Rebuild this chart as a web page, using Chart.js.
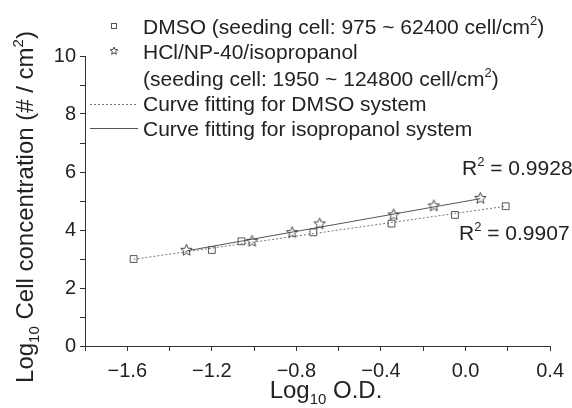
<!DOCTYPE html>
<html>
<head>
<meta charset="utf-8">
<script src="https://cdn.jsdelivr.net/npm/chart.js@4.4.1/dist/chart.umd.min.js"></script>
<style>
  html, body { margin: 0; padding: 0; background: #fff; }
  #wrap { width: 572px; height: 408px; }
</style>
</head>
<body>
<div id="wrap"><canvas id="chart" width="572" height="408"></canvas></div>
<script>
// data
const dmsoX = [-1.57, -1.20, -1.06, -0.72, -0.35, -0.05, 0.19];
const dmsoY = [3.00, 3.31, 3.61, 3.92, 4.22, 4.52, 4.82];
const isoX  = [-1.32, -1.01, -0.82, -0.69, -0.34, -0.15, 0.07];
const isoY  = [3.30, 3.61, 3.91, 4.21, 4.52, 4.83, 5.09];
// fitted lines (end points as drawn)
const dmsoFitX = [-1.57, 0.19];
const dmsoFitY = [2.99, 4.82];
const isoFitX  = [-1.32, 0.07];
const isoFitY  = [3.28, 5.08];
const r2Labels = ['0.9928', '0.9907'];
const xTicksShown = [-1.6, -1.2, -0.8, -0.4, 0.0, 0.4];
const yTicksShown = [0, 2, 4, 6, 8, 10];

const FONT = '"Liberation Sans", Arial, Helvetica, sans-serif';
const INK = '#222';
const AXIS = '#333';

const pts = (xs, ys) => xs.map((x, i) => ({ x, y: ys[i] }));

// 5-point hollow star used as point style
function makeStar(size, r){
  const c = document.createElement('canvas');
  c.width = size; c.height = size;
  const g = c.getContext('2d');
  drawStar(g, size/2, size/2, r);
  return c;
}
function drawStar(g, cx, cy, r){
  const ri = r * 0.45;
  g.beginPath();
  for (let i = 0; i < 10; i++){
    const a = -Math.PI/2 + i*Math.PI/5;
    const rr = i % 2 ? ri : r;
    const px = cx + rr*Math.cos(a), py = cy + rr*Math.sin(a);
    i ? g.lineTo(px, py) : g.moveTo(px, py);
  }
  g.closePath();
  g.strokeStyle = '#444';
  g.lineWidth = 1;
  g.stroke();
}
const starImg = makeStar(15, 6);

// draw text made of pieces (sub/superscripts)
function richWidth(g, parts){
  let w = 0;
  for (const p of parts){ g.font = `${p.size}px ${FONT}`; w += g.measureText(p.t).width; }
  return w;
}
function drawRich(g, parts, x, y, align){
  let cx = align === 'center' ? x - richWidth(g, parts)/2 : x;
  for (const p of parts){
    g.font = `${p.size}px ${FONT}`;
    g.fillText(p.t, cx, y + (p.dy || 0));
    cx += g.measureText(p.t).width;
  }
}

const overlay = {
  id: 'overlay',
  afterDraw(chart){
    const g = chart.ctx;
    g.save();
    g.fillStyle = INK;
    g.textBaseline = 'alphabetic';
    g.textAlign = 'left';

    // axis titles
    drawRich(g, [
      { t: 'Log', size: 24 }, { t: '10', size: 15, dy: 6 }, { t: ' O.D.', size: 24 }
    ], 326, 398, 'center');

    g.save();
    g.translate(33, 207);
    g.rotate(-Math.PI/2);
    drawRich(g, [
      { t: 'Log', size: 24 }, { t: '10', size: 15, dy: 6 },
      { t: ' Cell concentration (# / cm', size: 24 }, { t: '2', size: 15, dy: -10 },
      { t: ')', size: 24 }
    ], 0, 0, 'center');
    g.restore();

    // R^2 annotations
    drawRich(g, [{ t: 'R', size: 21 }, { t: '2', size: 13, dy: -9 }, { t: ' = ' + r2Labels[0], size: 21 }], 462, 175, 'left');
    drawRich(g, [{ t: 'R', size: 21 }, { t: '2', size: 13, dy: -9 }, { t: ' = ' + r2Labels[1], size: 21 }], 459, 240, 'left');

    // legend
    const tx = 143;
    g.strokeStyle = '#555';
    g.lineWidth = 1;
    g.strokeRect(111.5, 23.5, 5, 5);
    drawStar(g, 114, 51, 4);
    drawRich(g, [{ t: 'DMSO (seeding cell: 975 ~ 62400 cell/cm', size: 21 }, { t: '2', size: 13, dy: -9 }, { t: ')', size: 21 }], tx, 34, 'left');
    drawRich(g, [{ t: 'HCl/NP-40/isopropanol', size: 21 }], tx, 59, 'left');
    drawRich(g, [{ t: '(seeding cell: 1950 ~ 124800 cell/cm', size: 21 }, { t: '2', size: 13, dy: -9 }, { t: ')', size: 21 }], tx, 86, 'left');
    drawRich(g, [{ t: 'Curve fitting for DMSO system', size: 21 }], tx, 111, 'left');
    drawRich(g, [{ t: 'Curve fitting for isopropanol system', size: 21 }], tx, 136, 'left');

    g.strokeStyle = '#777';
    g.setLineDash([2, 2]);
    g.beginPath(); g.moveTo(90, 104.5); g.lineTo(138, 104.5); g.stroke();
    g.setLineDash([]);
    g.strokeStyle = '#555';
    g.beginPath(); g.moveTo(90, 128.5); g.lineTo(138, 128.5); g.stroke();
    g.restore();
  }
};

const tickFont = { family: FONT, size: 20 };

new Chart(document.getElementById('chart'), {
  type: 'scatter',
  data: {
    datasets: [
      { label: 'DMSO', data: pts(dmsoX, dmsoY), pointStyle: 'rect', pointRadius: 4.8,
        borderColor: '#555', backgroundColor: 'rgba(255,255,255,0)', pointBorderWidth: 1 },
      { label: 'HCl/NP-40/isopropanol', data: pts(isoX, isoY), pointStyle: starImg, pointRadius: 6 },
      { label: 'Curve fitting for DMSO system', data: pts(dmsoFitX, dmsoFitY), showLine: true,
        pointRadius: 0, borderColor: '#777', borderWidth: 1, borderDash: [2, 2] },
      { label: 'Curve fitting for isopropanol system', data: pts(isoFitX, isoFitY), showLine: true,
        pointRadius: 0, borderColor: '#555', borderWidth: 1 }
    ]
  },
  options: {
    responsive: false,
    animation: false,
    devicePixelRatio: 1,
    layout: { padding: { top: 56, right: 17, left: 0, bottom: 0 } },
    plugins: { legend: { display: false }, tooltip: { enabled: false } },
    scales: {
      x: {
        type: 'linear', min: -1.8, max: 0.4,
        afterFit: s => { s.height = 62; },
        border: { display: true, color: AXIS, width: 1 },
        grid: { drawOnChartArea: false, drawTicks: true, tickLength: 5, color: AXIS },
        ticks: {
          stepSize: 0.2, autoSkip: false, maxRotation: 0, padding: 8, color: INK, font: tickFont,
          callback: v => {
            const hit = xTicksShown.find(t => Math.abs(t - v) < 1e-6);
            return hit === undefined ? '' : hit.toFixed(1).replace('-', '\u2212');
          }
        }
      },
      y: {
        type: 'linear', min: 0, max: 10,
        afterFit: s => { s.width = 85; },
        border: { display: true, color: AXIS, width: 1 },
        grid: { drawOnChartArea: false, drawTicks: true, tickLength: 5, color: AXIS },
        ticks: {
          stepSize: 1, autoSkip: false, padding: 4, color: INK, font: tickFont,
          callback: v => yTicksShown.includes(v) ? String(v) : ''
        }
      }
    }
  },
  plugins: [overlay]
});
</script>
</body>
</html>
